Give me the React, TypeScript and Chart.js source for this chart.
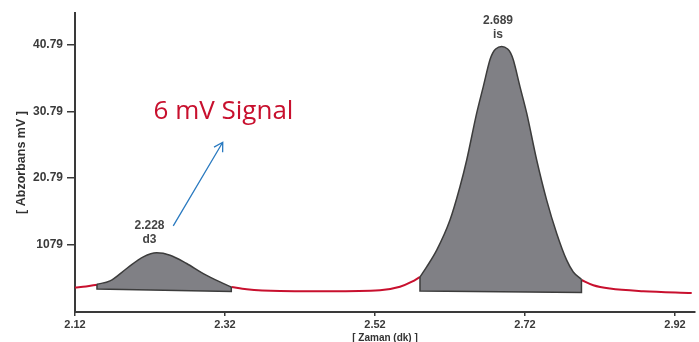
import React, { useEffect, useRef } from 'react';
import { Chart, registerables } from 'chart.js';

Chart.register(...registerables);

// Axis ticks
const xTicks = [2.12, 2.32, 2.52, 2.72, 2.92];
const yTicks = [10.79, 20.79, 30.79, 40.79];
const yTickLabels = ['1079', '20.79', '30.79', '40.79'];

// Red baseline pieces
const baseLeftX = [2.12, 2.1347, 2.1493];
const baseLeftY = [4.31, 4.46, 4.75];
const baseMidX = [2.3284, 2.3489, 2.3933, 2.46, 2.5267, 2.5533, 2.5693, 2.58];
const baseMidY = [4.4, 4.06, 3.8, 3.76, 3.91, 4.43, 5.19, 5.91];
const baseRightX = [2.7953, 2.8111, 2.8333, 2.8777, 2.9423];
const baseRightY = [5.45, 4.66, 4.16, 3.76, 3.5];

// Peak 1 (d3)
const peak1X = [2.1493, 2.1667, 2.1889, 2.2111, 2.2289, 2.2467, 2.2689, 2.2911, 2.3133, 2.3284];
const peak1Y = [4.81, 5.31, 7.18, 8.92, 9.53, 9.18, 7.93, 6.42, 5.16, 4.4];
const peak1BaseX = [2.1493, 2.3284];
const peak1BaseY = [4.1, 3.71];

// Peak 2 (is)
const peak2X = [2.58, 2.5889, 2.6023, 2.62, 2.6333, 2.6423, 2.6556, 2.6644, 2.6733, 2.6769, 2.6809, 2.6889, 2.6969, 2.7009, 2.7044, 2.7133, 2.7223, 2.7356, 2.7489, 2.7623, 2.7756, 2.7844, 2.7953];
const peak2Y = [5.91, 7.42, 9.93, 14.45, 19.46, 23.49, 30.52, 34.52, 38.55, 39.56, 40.17, 40.55, 40.17, 39.56, 38.55, 34.52, 30.52, 23.49, 17.46, 12.45, 8.43, 6.66, 5.56];
const peak2BaseX = [2.58, 2.7953];
const peak2BaseY = [3.8, 3.56];

// Annotations
const peakTimes = ['2.228', '2.689'];
const peakNames = ['d3', 'is'];
const peakLabelX = [2.2193, 2.684];
const peakLabelY = [13.55, 44.35];
const signalText = '6 mV Signal';
const signalPos = [2.318, 29.66];
const arrowFrom = [2.251, 13.59];
const arrowTo = [2.317, 26.15];

const RED = '#c8102e';
const GRAY = '#808085';
const EDGE = '#3c3c3c';
const AXIS = '#3a3a3a';
const BLUE = '#2a7ac0';

const zip = (xs: number[], ys: number[]) => xs.map((x, i) => ({ x, y: ys[i] }));
const outline = (px: number[], py: number[], bx: number[], by: number[]) => [
  { x: px[0], y: py[0] },
  { x: bx[0], y: by[0] },
  { x: bx[1], y: by[1] },
  { x: px[px.length - 1], y: py[py.length - 1] },
];

const annotationPlugin = {
  id: 'annotations',
  afterDatasetsDraw(chart: any) {
    const { ctx, scales } = chart;
    const xs = scales.x;
    const ys = scales.y;
    ctx.save();
    ctx.fillStyle = '#444';
    ctx.font = 'bold 12px "Liberation Sans", Arial, sans-serif';
    ctx.textAlign = 'center';
    ctx.textBaseline = 'middle';
    peakTimes.forEach((t, i) => {
      const px = xs.getPixelForValue(peakLabelX[i]);
      const py = ys.getPixelForValue(peakLabelY[i]);
      ctx.fillText(t, px, py);
      ctx.fillText(peakNames[i], px, py + 14);
    });
    ctx.fillStyle = RED;
    ctx.font = '26px "Open Sans", sans-serif';
    ctx.textBaseline = 'alphabetic';
    ctx.fillText(signalText, xs.getPixelForValue(signalPos[0]), ys.getPixelForValue(signalPos[1]));
    const x0 = xs.getPixelForValue(arrowFrom[0]);
    const y0 = ys.getPixelForValue(arrowFrom[1]);
    const x1 = xs.getPixelForValue(arrowTo[0]);
    const y1 = ys.getPixelForValue(arrowTo[1]);
    ctx.strokeStyle = BLUE;
    ctx.lineWidth = 1.3;
    ctx.beginPath();
    ctx.moveTo(x0, y0);
    ctx.lineTo(x1, y1);
    const ang = Math.atan2(y1 - y0, x1 - x0);
    const len = 10;
    const spread = (30 * Math.PI) / 180;
    ctx.moveTo(x1 - len * Math.cos(ang - spread), y1 - len * Math.sin(ang - spread));
    ctx.lineTo(x1, y1);
    ctx.lineTo(x1 - len * Math.cos(ang + spread), y1 - len * Math.sin(ang + spread));
    ctx.stroke();
    ctx.restore();
  },
};

export default function App() {
  const ref = useRef<HTMLCanvasElement>(null);
  useEffect(() => {
    if (!ref.current) return;
    Chart.defaults.font.family = '"Liberation Sans", Arial, sans-serif';
    const line = (data: any[], color: string, width: number, order: number, extra: any = {}) => ({
      data,
      borderColor: color,
      borderWidth: width,
      pointRadius: 0,
      pointHoverRadius: 0,
      tension: 0,
      fill: false,
      order,
      ...extra,
    });
    const smooth = { cubicInterpolationMode: 'monotone' };
    const datasets: any[] = [
      line(zip(baseLeftX, baseLeftY), RED, 2, 6, smooth),
      line(zip(baseMidX, baseMidY), RED, 2, 6, smooth),
      line(zip(baseRightX, baseRightY), RED, 2, 6, smooth),
      line(zip(peak1X, peak1Y), EDGE, 1.5, 3, { ...smooth, fill: { target: 5 }, backgroundColor: GRAY }),
      line(outline(peak1X, peak1Y, peak1BaseX, peak1BaseY), EDGE, 1.5, 1, { borderJoinStyle: 'miter' }),
      line(zip(peak1BaseX, peak1BaseY), 'rgba(0,0,0,0)', 0, 4),
      line(zip(peak2X, peak2Y), EDGE, 1.5, 3, { ...smooth, fill: { target: 8 }, backgroundColor: GRAY }),
      line(outline(peak2X, peak2Y, peak2BaseX, peak2BaseY), EDGE, 1.5, 1, { borderJoinStyle: 'miter' }),
      line(zip(peak2BaseX, peak2BaseY), 'rgba(0,0,0,0)', 0, 4),
    ];
    const chart = new Chart(ref.current, {
      type: 'line',
      data: { datasets },
      plugins: [annotationPlugin],
      options: {
        animation: false,
        responsive: true,
        maintainAspectRatio: false,
        layout: { padding: { top: 13, right: 4, left: 0, bottom: 0 } },
        plugins: { legend: { display: false }, tooltip: { enabled: false } },
        scales: {
          x: {
            type: 'linear',
            min: 2.12,
            max: 2.9467,
            afterBuildTicks: (s: any) => {
              s.ticks = xTicks.map((v) => ({ value: v }));
            },
            afterFit: (s: any) => {
              s.height = 30;
            },
            ticks: {
              callback: (v: any) => Number(v).toFixed(2),
              font: { size: 11, weight: 'bold' },
              color: AXIS,
              padding: 2,
              maxRotation: 0,
              autoSkip: false,
            },
            grid: { drawOnChartArea: false, drawTicks: true, tickLength: 4, color: AXIS, lineWidth: 1.5 },
            border: { color: AXIS, width: 2 },
            title: {
              display: true,
              text: '[ Zaman (dk) ]',
              color: '#333',
              font: { size: 10, weight: 'bold', lineHeight: 0.8 },
              padding: 0,
            },
          },
          y: {
            type: 'linear',
            min: 0.64,
            max: 45.58,
            afterBuildTicks: (s: any) => {
              s.ticks = yTicks.map((v) => ({ value: v }));
            },
            afterFit: (s: any) => {
              s.width = 75;
            },
            ticks: {
              callback: (_v: any, i: number) => yTickLabels[i],
              font: { size: 12, weight: 'bold' },
              color: AXIS,
              padding: 4,
              autoSkip: false,
            },
            grid: { drawOnChartArea: false, drawTicks: true, tickLength: 8, color: AXIS, lineWidth: 1.5 },
            border: { color: AXIS, width: 2 },
            title: {
              display: true,
              text: '[ Abzorbans mV ]',
              color: '#333',
              font: { size: 12.5, weight: 'bold' },
              padding: { top: 14, bottom: 0 },
            },
          },
        },
      },
    });
    return () => chart.destroy();
  }, []);
  return (
    <div style={{ position: 'fixed', left: 0, top: 0, width: 699, height: 342, background: '#fff' }}>
      <canvas ref={ref} />
    </div>
  );
}
